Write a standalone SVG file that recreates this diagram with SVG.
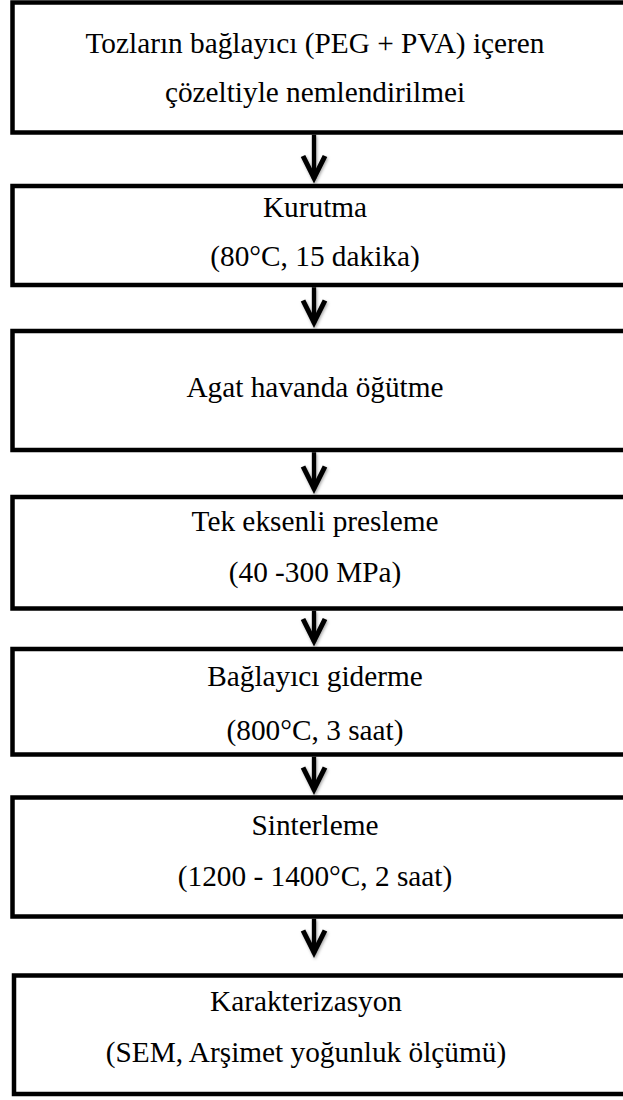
<svg xmlns="http://www.w3.org/2000/svg" width="623" height="1100" viewBox="0 0 623 1100">
<style>
.box{fill:#fff;stroke:#000;stroke-width:4.5}
.t{font-family:"Liberation Serif","Times New Roman",serif;font-size:29.3px;fill:#000;text-anchor:middle}
.conn{fill:none;stroke:#000;stroke-width:4.3}
</style>
<defs>
<filter id="sh" filterUnits="userSpaceOnUse" x="0" y="0" width="623" height="1100">
<feDropShadow dx="1" dy="1.5" stdDeviation="1.5" flood-color="#000" flood-opacity="0.35"/>
</filter>
<marker id="ah" markerUnits="userSpaceOnUse" viewBox="-30 -15 36 30" markerWidth="36" markerHeight="30" refX="0" refY="0" orient="auto" overflow="visible">
<path d="M-23,-11 L-1,0 L-23,11" fill="none" stroke="#000" stroke-width="5" stroke-linejoin="miter"/>
</marker>
</defs>
<rect width="623" height="1100" fill="#fff"/>
<g id="n1"><rect class="box" x="12.5" y="2.5" width="620" height="130"/>
<text class="t" x="315" y="53">Tozların bağlayıcı (PEG + PVA) içeren</text>
<text class="t" x="315" y="102">çözeltiyle nemlendirilmei</text></g>
<g id="n2"><rect class="box" x="12.5" y="186" width="620" height="99"/>
<text class="t" x="315" y="217">Kurutma</text>
<text class="t" x="315" y="266">(80°C, 15 dakika)</text></g>
<g id="n3"><rect class="box" x="12.5" y="331" width="620" height="119"/>
<text class="t" x="315" y="397">Agat havanda öğütme</text></g>
<g id="n4"><rect class="box" x="12.5" y="497" width="620" height="111.5"/>
<text class="t" x="315" y="531">Tek eksenli presleme</text>
<text class="t" x="315" y="582">(40 -300 MPa)</text></g>
<g id="n5"><rect class="box" x="12.5" y="649" width="620" height="105.5"/>
<text class="t" x="315" y="686">Bağlayıcı giderme</text>
<text class="t" x="315" y="740">(800°C, 3 saat)</text></g>
<g id="n6"><rect class="box" x="12.5" y="797.5" width="620" height="119"/>
<text class="t" x="315" y="835">Sinterleme</text>
<text class="t" x="315" y="886">(1200 - 1400°C, 2 saat)</text></g>
<g id="n7"><rect class="box" x="14" y="975.5" width="620" height="118.5"/>
<text class="t" x="306" y="1011">Karakterizasyon</text>
<text class="t" x="306" y="1062">(SEM, Arşimet yoğunluk ölçümü)</text></g>
<g id="connectors" filter="url(#sh)">
<path class="conn" d="M314,134.7 V179" marker-end="url(#ah)"/>
<path class="conn" d="M314,287.2 V323.5" marker-end="url(#ah)"/>
<path class="conn" d="M314,452.2 V489.5" marker-end="url(#ah)"/>
<path class="conn" d="M314,610.7 V642" marker-end="url(#ah)"/>
<path class="conn" d="M314,756.7 V790.5" marker-end="url(#ah)"/>
<path class="conn" d="M314,918.7 V953.5" marker-end="url(#ah)"/>
</g>
</svg>
